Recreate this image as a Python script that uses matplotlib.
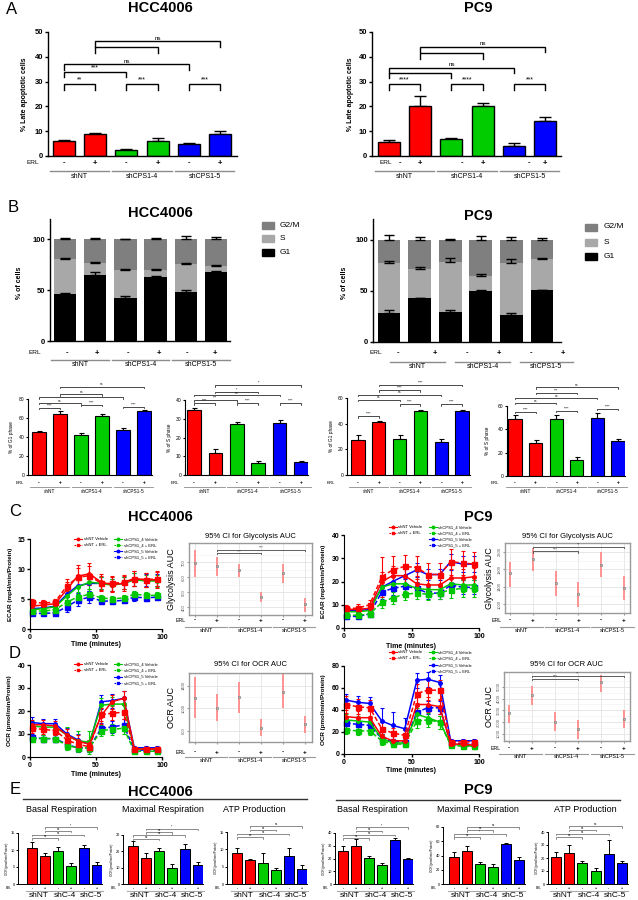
import numpy as np
import matplotlib
matplotlib.use('Agg')
import matplotlib.pyplot as plt
from matplotlib.transforms import blended_transform_factory
from matplotlib.lines import Line2D
from matplotlib.patches import Rectangle

plt.rcParams['font.family'] = ['Liberation Sans', 'DejaVu Sans']

# ======================= DATA =======================
groups = ['shNT', 'shCPS1-4', 'shCPS1-5']
groups_short = ['shNT', 'shC-4', 'shC-5']
erl_signs = ['-', '+', '-', '+', '-', '+']
bar_colors = ['#ff0000', '#ff0000', '#00cc00', '#00cc00', '#0000ff', '#0000ff']

# A: % late apoptotic cells
apo_hcc = [6.0, 8.8, 2.5, 6.2, 4.8, 9.0]
apo_hcc_err = [0.5, 0.4, 0.3, 1.2, 0.4, 1.2]
apo_pc9 = [5.8, 20.0, 6.8, 20.0, 4.0, 14.0]
apo_pc9_err = [0.6, 4.3, 0.6, 1.2, 1.3, 1.8]
apo_hcc_sig = [(0, 1, 28.9, '**'), (2, 3, 28.9, '***'), (4, 5, 28.9, '***'),
               (0, 2, 34.0, '***'), (0, 4, 37.0, 'ns'), (1, 3, 43.8, ''), (1, 5, 46.2, 'ns')]
apo_pc9_sig = [(0, 1, 28.9, '****'), (2, 3, 28.9, '****'), (4, 5, 28.9, '***'),
               (0, 2, 33.5, ''), (0, 4, 35.5, 'ns'), (1, 3, 41.5, ''), (1, 5, 44.0, 'ns')]

# B: cell cycle distribution (stacked)
cc_g1_hcc = [46, 65, 42.5, 62.5, 48, 67.5]
cc_s_hcc = [35, 11.5, 27.5, 7, 28, 6.5]
cc_g2m_hcc = [19, 23.5, 30, 30.5, 24, 26]
cc_g1_hcc_err = [0.8, 2.5, 1.5, 1.5, 2.0, 1.5]
cc_s_hcc_err = [1.0, 1.5, 1.0, 1.0, 1.0, 1.0]
cc_g2m_hcc_err = [1.5, 1.5, 0.5, 1.5, 3.0, 2.0]
cc_g1_pc9 = [28, 42.5, 29, 50, 26.5, 50.5]
cc_s_pc9 = [49.5, 29, 49.5, 14, 50.5, 30]
cc_g2m_pc9 = [22.5, 28.5, 21.5, 36, 23, 19.5]
cc_g1_pc9_err = [3.0, 0.5, 2.5, 1.0, 2.0, 0.5]
cc_s_pc9_err = [2.0, 1.5, 3.0, 2.5, 3.5, 1.5]
cc_g2m_pc9_err = [4.0, 2.0, 0.5, 3.0, 2.0, 1.0]

# B lower: % G1 / % S phase
g1_hcc = [45.5, 64, 42, 62.5, 47.5, 67]
g1_hcc_err = [1.0, 3.5, 2.0, 1.5, 2.5, 1.5]
s_hcc = [34.5, 11.5, 27, 6.5, 28, 6.8]
s_hcc_err = [1.5, 2.5, 1.5, 1.2, 1.5, 0.5]
g1_pc9 = [27.5, 41.5, 28, 49.5, 25.5, 50]
g1_pc9_err = [3.5, 0.8, 3.0, 1.0, 2.5, 0.8]
s_pc9 = [49, 28.5, 49, 14, 50, 30]
s_pc9_err = [3.0, 2.5, 3.5, 2.5, 4.0, 2.0]
g1_hcc_sig = [(0, 1, 71, '****'), (2, 3, 74, '****'), (4, 5, 72, '****'), (0, 2, 76, 'ns'),
              (0, 4, 82, ''), (1, 3, 85, 'ns'), (1, 5, 93, 'ns')]
s_hcc_sig = [(0, 1, 38.2, '****'), (2, 3, 38.2, '****'), (4, 5, 38.2, '****'), (0, 2, 40, '***'),
             (0, 4, 42.7, 'ns'), (1, 3, 44.4, '*'), (1, 5, 48, '*')]
g1_pc9_sig = [(0, 1, 46, '****'), (2, 3, 55, '****'), (4, 5, 55, '****'), (0, 2, 58.7, 'ns'),
              (0, 4, 62.6, 'ns'), (1, 3, 66, '****'), (1, 5, 70.5, '****')]
s_pc9_sig = [(0, 1, 54.8, '****'), (2, 3, 56, '****'), (4, 5, 57.7, '****'), (0, 2, 62.8, 'ns'),
             (0, 4, 66.8, 'ns'), (1, 3, 71.3, '***'), (1, 5, 76, 'ns')]

# C / D: Seahorse time courses
series_names = ['shNT Vehicle', 'shNT + ERL', 'shCPS1_4 Vehicle', 'shCPS1_4 + ERL',
                'shCPS1_5 Vehicle', 'shCPS1_5 + ERL']
time_min = [1.5, 10, 19, 28, 36, 45, 54, 62, 71, 79, 88, 96]

ecar_hcc = [
    [3.8, 4.0, 4.2, 6.6, 8.8, 9.2, 7.8, 7.4, 7.6, 8.4, 8.2, 8.2],
    [4.5, 4.3, 4.5, 7.2, 8.6, 8.9, 7.6, 7.6, 7.8, 8.4, 8.2, 8.4],
    [3.2, 3.4, 3.7, 5.5, 7.0, 7.8, 7.6, 7.3, 7.6, 8.2, 8.0, 8.0],
    [3.0, 3.0, 3.2, 4.5, 5.3, 5.8, 5.2, 5.0, 5.2, 5.8, 5.6, 5.6],
    [3.4, 3.5, 3.8, 5.8, 7.2, 7.6, 7.6, 7.4, 7.6, 8.3, 8.1, 8.2],
    [2.6, 2.6, 2.7, 3.7, 4.8, 5.3, 4.7, 4.6, 4.8, 5.3, 5.2, 5.3]]
ecar_hcc_err = [
    [0.6, 0.5, 0.5, 1.3, 1.8, 1.8, 1.3, 1.2, 1.3, 1.3, 1.2, 1.3],
    [0.5, 0.5, 0.5, 1.2, 1.5, 1.6, 1.2, 1.2, 1.2, 1.2, 1.2, 1.2],
    [0.4, 0.4, 0.4, 0.9, 1.1, 1.2, 1.0, 1.0, 1.0, 1.1, 1.0, 1.0],
    [0.4, 0.4, 0.4, 0.8, 0.9, 0.9, 0.5, 0.5, 0.5, 0.5, 0.5, 0.5],
    [0.4, 0.4, 0.4, 0.9, 1.2, 1.2, 1.0, 1.0, 1.0, 1.1, 1.0, 1.0],
    [0.3, 0.3, 0.3, 0.8, 1.0, 1.0, 0.5, 0.5, 0.5, 0.6, 0.5, 0.5]]
ecar_pc9 = [
    [8.0, 8.0, 8.5, 20.0, 22.5, 22.5, 19.0, 18.5, 18.5, 21.5, 21.5, 22.0],
    [8.5, 8.5, 10.0, 22.0, 25.0, 26.5, 26.0, 23.0, 23.0, 28.5, 28.0, 27.5],
    [7.0, 7.0, 7.5, 17.5, 19.0, 19.0, 17.0, 16.5, 16.5, 19.0, 18.5, 18.5],
    [5.5, 5.5, 6.0, 11.0, 13.0, 14.5, 15.0, 14.5, 15.0, 16.5, 17.0, 17.0],
    [7.5, 7.5, 8.0, 17.5, 20.0, 22.5, 25.0, 23.0, 23.0, 28.5, 27.5, 27.5],
    [5.0, 5.0, 6.0, 15.5, 17.0, 18.0, 17.0, 15.0, 15.0, 18.5, 17.5, 17.5]]
ecar_pc9_err = [
    [1.5, 1.5, 1.5, 4.0, 4.0, 4.0, 3.5, 3.5, 3.5, 4.0, 4.0, 4.0],
    [1.5, 2.0, 2.0, 8.5, 6.0, 5.0, 5.0, 5.0, 5.0, 5.5, 5.0, 5.0],
    [1.0, 1.0, 1.0, 3.0, 3.0, 3.0, 2.5, 2.5, 2.5, 3.0, 3.0, 3.0],
    [1.0, 1.0, 1.0, 2.5, 2.5, 2.5, 2.5, 2.5, 2.5, 3.5, 3.5, 3.5],
    [1.2, 1.2, 1.2, 3.0, 3.0, 3.0, 3.0, 2.5, 2.5, 3.5, 3.5, 3.5],
    [1.0, 1.0, 1.0, 3.0, 3.0, 3.0, 3.0, 2.5, 2.5, 3.0, 3.0, 3.0]]
ocr_hcc = [
    [14.0, 14.0, 13.5, 9.5, 7.0, 5.5, 18.0, 24.0, 25.5, 3.5, 3.5, 3.5],
    [12.5, 12.0, 11.5, 7.5, 5.5, 4.5, 18.5, 19.0, 19.5, 3.5, 3.5, 3.5],
    [13.5, 13.0, 13.0, 9.5, 7.0, 6.5, 22.5, 23.0, 23.0, 3.5, 3.5, 3.5],
    [8.0, 8.0, 8.0, 5.0, 4.0, 4.0, 11.5, 12.0, 12.5, 2.5, 2.5, 2.5],
    [15.0, 14.5, 14.5, 10.0, 7.5, 5.5, 24.0, 24.5, 25.5, 4.0, 4.0, 4.0],
    [8.5, 8.0, 8.0, 5.5, 4.0, 4.0, 12.5, 13.0, 14.0, 3.0, 3.0, 3.0]]
ocr_hcc_err = [
    [2.0, 2.0, 2.0, 2.5, 2.5, 2.0, 3.5, 3.0, 3.0, 1.0, 1.0, 1.0],
    [2.0, 2.0, 2.0, 2.5, 2.0, 2.0, 3.0, 3.0, 3.0, 1.0, 1.0, 1.0],
    [2.0, 2.0, 2.0, 3.5, 4.5, 5.0, 3.0, 3.0, 3.0, 1.0, 1.0, 1.0],
    [1.5, 1.5, 1.5, 2.0, 2.0, 2.0, 2.5, 2.5, 2.5, 0.8, 0.8, 0.8],
    [2.5, 2.0, 2.0, 2.5, 2.5, 2.0, 3.0, 3.0, 3.0, 1.0, 1.0, 1.0],
    [1.5, 1.5, 1.5, 2.0, 2.0, 2.0, 2.5, 2.5, 2.5, 0.8, 0.8, 0.8]]
ocr_pc9 = [
    [34, 33, 33, 16, 12, 12, 45, 45, 43, 9, 9, 8],
    [45, 43, 42, 23, 19, 17, 55, 58, 58, 11, 11, 11],
    [31, 30, 29, 14, 10, 10, 36, 33, 29, 9, 8, 7],
    [22, 21, 21, 12, 9, 9, 30, 31, 29, 8, 7, 7],
    [49, 47, 46, 30, 26, 23, 67, 68, 65, 12, 12, 12],
    [28, 27, 26, 14, 11, 11, 38, 42, 42, 10, 9, 9]]
ocr_pc9_err = [
    [6, 6, 6, 5, 4, 4, 7, 7, 7, 2, 2, 2],
    [8, 7, 7, 6, 5, 5, 9, 9, 9, 2, 2, 2],
    [5, 5, 5, 4, 3, 3, 6, 6, 6, 2, 2, 2],
    [4, 4, 4, 4, 3, 3, 6, 6, 6, 2, 2, 2],
    [6, 6, 6, 12, 12, 10, 7, 7, 7, 2, 2, 2],
    [5, 5, 5, 4, 3, 3, 6, 6, 6, 2, 2, 2]]

# AUC 95% CI (estimate, low, high)
glyc_hcc = [697, 675, 645, 470, 627, 422]
glyc_hcc_lo = [600, 610, 600, 435, 565, 370]
glyc_hcc_hi = [782, 735, 690, 500, 685, 460]
glyc_pc9 = [1703, 2030, 1476, 1227, 1902, 1369]
glyc_pc9_lo = [1405, 1760, 1192, 943, 1618, 1100]
glyc_pc9_hi = [1973, 2294, 1760, 1511, 2186, 1653]
ocrauc_hcc = [1183, 1011, 1200, 652, 1286, 714]
ocrauc_hcc_lo = [823, 766, 909, 498, 1011, 554]
ocrauc_hcc_hi = [1560, 1257, 1470, 800, 1610, 857]
ocrauc_pc9 = [2746, 4296, 2042, 1423, 5366, 2240]
ocrauc_pc9_lo = [1958, 3450, 1254, 549, 4577, 1479]
ocrauc_pc9_hi = [3450, 5056, 2830, 2183, 5986, 3030]

# E: mitochondrial parameters (OCR)
basal_hcc = [10.5, 8.2, 9.7, 5.4, 10.6, 5.7]
basal_hcc_err = [2.0, 1.0, 1.3, 0.8, 1.0, 0.8]
maximal_hcc = [23, 16, 20, 10, 21.5, 11.5]
maximal_hcc_err = [3.5, 3.0, 1.8, 2.0, 2.8, 1.8]
atp_hcc = [9.0, 6.8, 6.2, 4.1, 8.0, 4.4]
atp_hcc_err = [1.5, 0.5, 2.8, 0.6, 2.5, 1.2]
basal_pc9 = [26, 29.5, 20.5, 15, 34.5, 19.5]
basal_pc9_err = [3.5, 5.5, 1.3, 1.8, 1.3, 1.0]
maximal_pc9 = [38, 46, 28, 24, 56, 34]
maximal_pc9_err = [7.0, 7.0, 3.5, 4.0, 2.0, 3.5]
atp_pc9 = [21, 23.5, 16.5, 10, 23, 16.5]
atp_pc9_err = [3.5, 6.5, 1.5, 2.0, 11.0, 1.0]
e_sig_labels = [['ns', 'ns', 'ns', '*'], ['ns', 'ns', 'ns', '*'], ['ns', 'ns', 'ns', 'ns'],
                ['ns', 'ns', 'ns', '*'], ['ns', '*', 'ns', 'ns'], ['ns', 'ns', 'ns', 'ns']]

# ======================= LAYOUT =======================
W, H = 638, 900
fig = plt.figure(figsize=(W / 100, H / 100), dpi=100)
fig.patch.set_facecolor('white')


def fx(x):
    return x / W


def fy(y):
    return 1 - y / H


def add_ax(x0, y0, x1, y1):
    return fig.add_axes([fx(x0), fy(y1), (x1 - x0) / W, (y1 - y0) / H])


def ftext(x, y, s, **kw):
    kw.setdefault('ha', 'center')
    kw.setdefault('va', 'center')
    fig.text(fx(x), fy(y), s, **kw)


def xlim_from(L, R, c0, step):
    return ((L - c0) / step, (R - c0) / step)


def prism_ax(rect, ylim, yticks, xlim, fs=5.5, lw=1.0, bold=True, tl=2.5):
    ax = add_ax(*rect)
    ax.set_xlim(*xlim)
    ax.set_ylim(*ylim)
    ax.set_yticks(yticks)
    ax.set_xticks([])
    for s in ['top', 'right']:
        ax.spines[s].set_visible(False)
    for s in ['left', 'bottom']:
        ax.spines[s].set_linewidth(lw)
    ax.tick_params(axis='y', length=tl, width=lw, labelsize=fs, pad=1)
    if bold:
        for t in ax.get_yticklabels():
            t.set_fontweight('bold')
    ax.patch.set_alpha(0)
    return ax


def bars(ax, vals, errs, width=0.7, lw=1.0, cap=4, elw=1.0):
    x = np.arange(len(vals))
    ax.bar(x, vals, width=width, color=bar_colors, edgecolor='k', linewidth=lw, zorder=2)
    ax.errorbar(x, vals, yerr=[np.zeros(len(vals)), errs], fmt='none', ecolor='k',
                elinewidth=elw, capsize=cap, capthick=elw, zorder=1)


def xlab(ax, erl_y, line_y, grp_y, erl_px, fs_erl, fs_grp, erl_pos=None, spans=None,
         names=groups, lcol='#8c8c8c', llw=1.0, fs_erl_word=None):
    tr = blended_transform_factory(ax.transData, fig.transFigure)
    pos = erl_pos if erl_pos is not None else list(range(6))
    for p, s in zip(pos, erl_signs):
        ax.text(p, fy(erl_y), s, transform=tr, ha='center', va='center',
                fontsize=fs_erl, fontweight='bold')
    ftext(erl_px, erl_y, 'ERL', fontsize=fs_erl_word if fs_erl_word else fs_erl * 0.85)
    if spans is None:
        spans = [(2 * g - 0.45, 2 * g + 1.45) for g in range(3)]
    for (a, b), n in zip(spans, names):
        ax.add_line(Line2D([a, b], [fy(line_y)] * 2, transform=tr, color=lcol, lw=llw,
                           clip_on=False))
        ax.text((a + b) / 2, fy(grp_y), n, transform=tr, ha='center', va='center',
                fontsize=fs_grp)


def brackets(ax, sig, h, fs, lw=1.0, pad=0.3, fs_ns=None):
    for i, j, y, lab in sig:
        ax.plot([i, i, j, j], [y - h, y, y, y - h], color='k', lw=lw, clip_on=False,
                solid_joinstyle='miter')
        if lab:
            f = fs if '*' in lab else (fs_ns if fs_ns else fs * 0.9)
            ax.text((i + j) / 2, y + pad, lab, ha='center', va='bottom', fontsize=f,
                    clip_on=False)


# ---------- panel letters & titles ----------
for L, (x, y) in zip('ABCDE', [(12, 9), (13, 207), (15, 512), (15, 653), (15, 790)]):
    ftext(x, y, L, fontsize=12)
for x, y in [(160, 8), (160, 213), (160, 517), (160, 792)]:
    ftext(x, y, 'HCC4006', fontsize=10.5, fontweight='bold')
for x, y in [(478, 8), (478, 216), (478, 517), (478, 790)]:
    ftext(x, y, 'PC9', fontsize=10.5, fontweight='bold')

# ---------- A ----------
axA1 = prism_ax((48, 32, 237, 156), (0, 50), [0, 10, 20, 30, 40, 50], xlim_from(48, 237, 64, 31.2))
bars(axA1, apo_hcc, apo_hcc_err)
brackets(axA1, apo_hcc_sig, 2.2, 5, pad=0.2, fs_ns=4.5)
xlab(axA1, 163, 171, 176, 33, 5.5, 5)
ftext(25, 94, '% Late apoptotic cells', fontsize=5, fontweight='bold', rotation=90)

axA2 = prism_ax((372, 32, 561, 156), (0, 50), [0, 10, 20, 30, 40, 50], xlim_from(372, 561, 389, 31.2))
bars(axA2, apo_pc9, apo_pc9_err)
brackets(axA2, apo_pc9_sig, 2.2, 5, pad=0.2, fs_ns=4.5)
xlab(axA2, 163, 171, 176, 386, 5.5, 5, erl_pos=[0.35, 1.0, 2.34, 3.0, 4.5, 5.0])
ftext(350, 94, '% Late apoptotic cells', fontsize=5, fontweight='bold', rotation=90)


# ---------- B top ----------
def stacked(ax, g1, s, g2m, e1, es, eg, width=0.74):
    x = np.arange(6)
    g1 = np.array(g1, float)
    s = np.array(s, float)
    g2m = np.array(g2m, float)
    ax.bar(x, g1, width, color='black', zorder=2)
    ax.bar(x, s, width, bottom=g1, color='#a8a8a8', zorder=2)
    ax.bar(x, g2m, width, bottom=g1 + s, color='#7f7f7f', zorder=2)
    for top, e in [(g1, e1), (g1 + s, es), (g1 + s + g2m, eg)]:
        ax.errorbar(x, top, yerr=[np.zeros(6), e], fmt='none', ecolor='k', elinewidth=1.0,
                    capsize=3.5, capthick=1.0, zorder=3)


axB1 = prism_ax((50, 219, 230, 341), (0, 120), [0, 50, 100], xlim_from(50, 230, 65, 30.2))
stacked(axB1, cc_g1_hcc, cc_s_hcc, cc_g2m_hcc, cc_g1_hcc_err, cc_s_hcc_err, cc_g2m_hcc_err)
xlab(axB1, 353, 360, 365, 35, 5.5, 5,
     erl_pos=[0.07, 1.06, 2.09, 3.12, 4.05, 4.97])
ftext(20, 283, '% of cells', fontsize=5, fontweight='bold', rotation=90)

axB2 = prism_ax((373, 219, 561, 342), (0, 120), [0, 50, 100], xlim_from(373, 561, 389, 30.6))
stacked(axB2, cc_g1_pc9, cc_s_pc9, cc_g2m_pc9, cc_g1_pc9_err, cc_s_pc9_err, cc_g2m_pc9_err)
xlab(axB2, 353, 362, 367, 376, 5.5, 5,
     erl_pos=[0.29, 1.5, 2.55, 3.6, 4.64, 5.69],
     spans=[(0.03, 1.83), (2.16, 3.96), (4.28, 6.0)])
ftext(345, 283, '% of cells', fontsize=5, fontweight='bold', rotation=90)

for (bx, tx, ys) in [(262, 280, [225.5, 239, 253]), (585, 604, [227, 242, 256])]:
    for y, lab, col in zip(ys, ['G2/M', 'S', 'G1'], ['#7f7f7f', '#a8a8a8', 'black']):
        fig.add_artist(Rectangle((fx(bx), fy(y + 3.5)), 12 / W, 7 / H, color=col,
                                 transform=fig.transFigure))
        ftext(tx, y, lab, fontsize=6, ha='left')


# ---------- B bottom ----------
def small_bar(rect, vals, errs, ylim, yticks, c0, step, sig, erl_px, ylab, ylab_x):
    ax = prism_ax(rect, ylim, yticks, xlim_from(rect[0], rect[2], c0, step), fs=3.6,
                  lw=0.8, bold=False, tl=1.5)
    bars(ax, vals, errs, width=0.64, lw=0.8, cap=1.8, elw=0.8)
    brackets(ax, sig, ylim[1] * 0.02, 2.6, lw=0.5, pad=ylim[1] * 0.003)
    xlab(ax, 483, 487.5, 492, erl_px, 3.6, 3.4, llw=0.6)
    ftext(ylab_x, (rect[1] + rect[3]) / 2, ylab, fontsize=3.4, rotation=90)
    return ax


small_bar((28, 399, 152, 475), g1_hcc, g1_hcc_err, (0, 80), [0, 20, 40, 60, 80], 39, 21,
          g1_hcc_sig, 20, '% of G1 phase', 12)
small_bar((185, 400, 308, 475), s_hcc, s_hcc_err, (0, 40), [0, 10, 20, 30, 40], 194, 21.4,
          s_hcc_sig, 175, '% of S phase', 170)
small_bar((347, 398, 470, 475), g1_pc9, g1_pc9_err, (0, 60), [0, 20, 40, 60], 358, 20.8,
          g1_pc9_sig, 331, '% of G1 phase', 331)
small_bar((507, 406, 625, 476), s_pc9, s_pc9_err, (0, 60), [0, 20, 40, 60], 515, 20.6,
          s_pc9_sig, 495, '% of S phase', 487)

# ---------- C / D line plots ----------
s_colors = ['#ff0000', '#ff0000', '#00c800', '#00c800', '#0000ff', '#0000ff']
s_ls = ['-', '--', '-', '--', '-', '--']
s_mk = ['o', 's', 'o', 's', 'o', 's']
s_ms = [2.5, 3.6, 2.5, 3.6, 2.5, 3.6]


def line_ax(rect, ylim, yticks, data, errs, ylab, ylab_x, xlab_y):
    ax = add_ax(*rect)
    ax.set_xlim(0, 100)
    ax.set_ylim(*ylim)
    ax.set_xticks([0, 50, 100])
    ax.set_yticks(yticks)
    for s in ['top', 'right']:
        ax.spines[s].set_visible(False)
    ax.tick_params(length=2.5, width=1, labelsize=5, pad=1)
    for t in ax.get_xticklabels() + ax.get_yticklabels():
        t.set_fontweight('bold')
    ax.patch.set_alpha(0)
    for k in [4, 5, 2, 3, 0, 1]:
        ax.errorbar(time_min, data[k], yerr=errs[k], color=s_colors[k], ls=s_ls[k],
                    marker=s_mk[k], ms=s_ms[k], lw=1.1, elinewidth=0.8, capsize=1.5,
                    capthick=0.8, clip_on=False, dashes=(3, 1.5) if s_ls[k] == '--' else (None, None))
    ftext(ylab_x, (rect[1] + rect[3]) / 2, ylab, fontsize=4.5, fontweight='bold', rotation=90)
    ftext((rect[0] + rect[2]) / 2, xlab_y, 'Time (minutes)', fontsize=5, fontweight='bold')
    return ax


def line_legend(c1x, c2x, rows):
    placement = [(c1x, rows[0]), (c1x, rows[1]), (c2x, rows[0]), (c2x, rows[1]),
                 (c2x, rows[2]), (c2x, rows[3])]
    for k, (x, y) in enumerate(placement):
        fig.add_artist(Line2D([fx(x - 4), fx(x + 4)], [fy(y)] * 2, color=s_colors[k],
                              ls=s_ls[k], lw=0.8, transform=fig.transFigure,
                              dashes=(1.5, 0.8) if s_ls[k] == '--' else (None, None)))
        fig.add_artist(Line2D([fx(x)], [fy(y)], color=s_colors[k], marker=s_mk[k],
                              ms=1.8, transform=fig.transFigure))
        ftext(x + 5.5, y, series_names[k], fontsize=3.0, ha='left')


line_ax((30, 539, 162, 629), (0, 15), [0, 5, 10, 15], ecar_hcc, ecar_hcc_err,
        'ECAR (mpH/min/Protein)', 11, 645)
line_legend(78, 118, [539, 545, 551, 557])
line_ax((344, 535, 479, 628), (0, 40), [0, 10, 20, 30, 40], ecar_pc9, ecar_pc9_err,
        'ECAR (mpH/min/Protein)', 324, 646)
line_legend(393, 433, [527, 533, 539, 545])
line_ax((30, 665, 162, 757), (0, 40), [0, 10, 20, 30, 40], ocr_hcc, ocr_hcc_err,
        'OCR (pmol/min/Protein)', 10, 774)
line_legend(78, 118, [664, 670, 676.5, 683])
line_ax((344, 666, 479, 754), (0, 80), [0, 20, 40, 60, 80], ocr_pc9, ocr_pc9_err,
        'OCR (pmol/min/Protein)', 324, 770)
line_legend(393, 433, [652, 658, 665, 671])


# ---------- AUC CI panels ----------
def auc_ax(rect, ylim, yticks, c0, step, mid, lo, hi, title, title_y, ylab, ylab_x,
           sig, sig_h, erl_y, line_y, grp_y, erl_px):
    ax = add_ax(*rect)
    ax.set_facecolor('white')
    ax.set_xlim(*xlim_from(rect[0], rect[2], c0, step))
    ax.set_ylim(*ylim)
    ax.set_yticks(yticks)
    d = yticks[1] - yticks[0]
    ax.set_yticks([t + d / 2 for t in [yticks[0] - d] + list(yticks)], minor=True)
    ax.set_xticks(range(6))
    ax.grid(True, which='major', color='#e3e3e3', lw=0.6)
    ax.grid(True, which='minor', axis='y', color='#f0f0f0', lw=0.4)
    ax.set_axisbelow(True)
    for s in ax.spines.values():
        s.set_color('#9a9a9a')
        s.set_linewidth(1.0)
    ax.tick_params(axis='y', which='major', labelsize=3, length=1.5, color='#9a9a9a',
                   labelcolor='#555555', pad=1)
    ax.tick_params(axis='y', which='minor', length=0)
    for t in ax.get_yticklabels():
        t.set_rotation(90)
        t.set_va('center')
    ax.tick_params(axis='x', labelbottom=False, length=1.5, color='#9a9a9a')
    x = np.arange(6)
    ax.vlines(x, lo, hi, color='#ff8a8a', lw=1.3, zorder=3)
    ax.plot(x, mid, 'o', ms=1.8, mfc='#bbbbbb', mec='#777777', mew=0.4, zorder=4)
    for i, j, y, lab in sig:
        ax.plot([i, i, j, j], [y - sig_h, y, y, y - sig_h], color='#444444', lw=0.6, zorder=5)
        ax.text((i + j) / 2, y, lab, ha='center', va='bottom', fontsize=3, color='#333333')
    ftext((rect[0] + rect[2]) / 2, title_y, title, fontsize=5.5)
    ftext(ylab_x, (rect[1] + rect[3]) / 2, ylab, fontsize=6.5, rotation=90)
    xlab(ax, erl_y, line_y, grp_y, erl_px, 4.5, 4, lcol='#999999', llw=0.8)
    return ax


auc_ax((189, 543, 312, 615), (368, 827), [400, 500, 600, 700], 195, 22,
       glyc_hcc, glyc_hcc_lo, glyc_hcc_hi, '95% CI for Glycolysis AUC', 537,
       'Glycolysis AUC', 171, [(1, 3, 759, '***'), (1, 5, 780, '***')], 8,
       620, 627, 631, 181)
auc_ax((505, 543, 630, 613), (872, 2378), [1000, 1400, 1800, 2200], 510, 22.8,
       glyc_pc9, glyc_pc9_lo, glyc_pc9_hi, '95% CI for Glycolysis AUC', 537,
       'Glycolysis AUC', 490, [(1, 3, 2207, '***'), (1, 5, 2307, '**')], 25,
       620, 627, 631, 497)
auc_ax((189, 673, 312, 742), (429, 1623), [600, 1000, 1400], 195, 22,
       ocrauc_hcc, ocrauc_hcc_lo, ocrauc_hcc_hi, '95% CI for OCR AUC', 664,
       'OCR AUC', 171, [], 20, 752, 757, 761, 181)
auc_ax((504, 672, 630, 741), (408, 6240), [1000, 2000, 3000, 4000, 5000], 509, 23,
       ocrauc_pc9, ocrauc_pc9_lo, ocrauc_pc9_hi, '95% CI for OCR AUC', 664,
       'OCR AUC', 490, [(1, 3, 5676, '***'), (1, 5, 5930, '**')], 100, 748, 754, 757, 496)

# ---------- E ----------
for (x0, x1, y) in [(23, 307, 799), (336, 620, 800)]:
    fig.add_artist(Line2D([fx(x0), fx(x1)], [fy(y)] * 2, color='#333333', lw=1.0,
                          transform=fig.transFigure))
for x, lab in [(61, 'Basal Respiration'), (163, 'Maximal Respiration'), (254, 'ATP Production'),
               (372, 'Basal Respiration'), (478, 'Maximal Respiration'), (585, 'ATP Production')]:
    ftext(x, 810, lab, fontsize=6.5)

e_panels = [
    ((18, 833, 102, 884), basal_hcc, basal_hcc_err, (0, 15), [0, 5, 10, 15], 32, 13),
    ((123, 835, 203, 884), maximal_hcc, maximal_hcc_err, (0, 30), [0, 10, 20, 30], 133, 13),
    ((227, 832, 307, 884), atp_hcc, atp_hcc_err, (0, 15), [0, 5, 10, 15], 237, 13),
    ((335, 833, 413, 884), basal_pc9, basal_pc9_err, (0, 40), [0, 10, 20, 30, 40], 343, 13),
    ((443, 827, 525, 884), maximal_pc9, maximal_pc9_err, (0, 80), [0, 20, 40, 60, 80], 454, 13),
    ((548, 832, 628, 884), atp_pc9, atp_pc9_err, (0, 40), [0, 10, 20, 30, 40], 556, 13.2),
]
e_pairs = [(0, 2), (0, 4), (1, 3), (1, 5)]
e_fracs = [[0.90, 0.97, 1.04, 1.11], [0.92, 0.99, 1.06, 1.13], [0.90, 0.97, 1.04, 1.11],
           [0.90, 0.97, 1.04, 1.11], [0.82, 0.88, 0.94, 1.0], [0.90, 0.97, 1.04, 1.11]]
for k, (rect, vals, errs, yl, yt, c0, st) in enumerate(e_panels):
    ax = prism_ax(rect, yl, yt, xlim_from(rect[0], rect[2], c0, st), fs=2.8, lw=0.7,
                  bold=False, tl=1.2)
    bars(ax, vals, errs, width=0.76, lw=0.7, cap=1.5, elw=0.7)
    trb = ax.get_xaxis_transform()
    for (i, j), fr, lab in zip(e_pairs, e_fracs[k], e_sig_labels[k]):
        ax.plot([i, i, j, j], [fr - 0.03, fr, fr, fr - 0.03], color='#333333', lw=0.4,
                transform=trb, clip_on=False)
        ax.text((i + j) / 2, fr, lab, transform=trb, ha='center', va='bottom', fontsize=2.2)
    xlab(ax, 888, 891, 895.5, rect[0] - 9, 2.6, 6, names=groups_short, lcol='#aaaaaa',
         llw=0.8, fs_erl_word=2.2)
    ftext(rect[0] - 11, (rect[1] + rect[3]) / 2, 'OCR (pmol/min/Protein)', fontsize=2.2,
          rotation=90)

fig.savefig('out.png', dpi=100, facecolor='white')
